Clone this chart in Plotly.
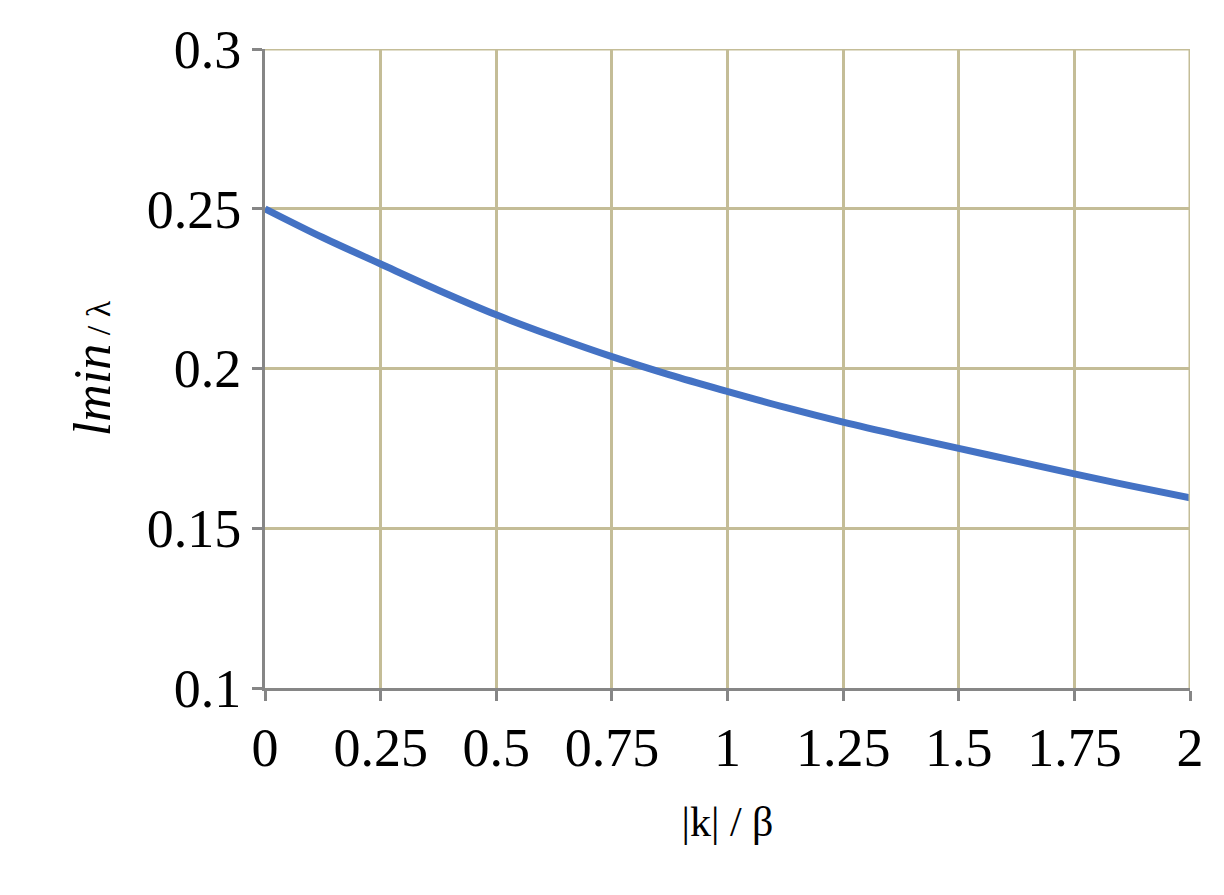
import plotly.graph_objects as go

x_vals = [0, 0.125, 0.25, 0.375, 0.5, 0.625, 0.75, 0.875, 1, 1.125, 1.25, 1.375, 1.5, 1.625, 1.75, 1.875, 2]
y_vals = [0.25, 0.2410, 0.2327, 0.2245, 0.2168, 0.2100, 0.2037, 0.1980, 0.1928, 0.1878, 0.1832, 0.1790, 0.1750, 0.1710, 0.1670, 0.1632, 0.1595]
x_ticks = [0, 0.25, 0.5, 0.75, 1, 1.25, 1.5, 1.75, 2]
x_tick_text = ["0", "0.25", "0.5", "0.75", "1", "1.25", "1.5", "1.75", "2"]
y_ticks = [0.1, 0.15, 0.2, 0.25, 0.3]
y_tick_text = ["0.1", "0.15", "0.2", "0.25", "0.3"]

fig = go.Figure(go.Scatter(x=x_vals, y=y_vals, mode="lines", line=dict(color="#4472C4", width=7, shape="spline")))
grid = "#C4BD97"
fig.update_layout(
    width=1208, height=879, paper_bgcolor="white", plot_bgcolor="white",
    margin=dict(l=257, r=19, t=38, b=199), showlegend=False,
    font=dict(family="Liberation Serif", color="black", size=40),
    xaxis=dict(range=[0, 2], tickvals=x_ticks, ticktext=x_tick_text, showgrid=True, gridcolor=grid, gridwidth=3,
               zeroline=False, showline=True, linecolor="#868686", linewidth=3, ticks="outside", ticklen=10,
               tickcolor="#868686", tickwidth=3, mirror=False, tickfont=dict(size=54),
               title=dict(text="|k| / β", font=dict(size=42), standoff=30)),
    yaxis=dict(range=[0.1, 0.3], tickvals=y_ticks, ticktext=y_tick_text, showgrid=True, gridcolor=grid, gridwidth=3,
               zeroline=False, showline=True, linecolor="#868686", linewidth=3, ticks="outside", ticklen=10,
               tickcolor="#868686", tickwidth=3, tickfont=dict(size=54),
               title=dict(text="<i>lmin</i><span style='font-size:34px'> / λ</span>", font=dict(size=52), standoff=20)),
)
fig.add_shape(type="line", xref="x", yref="paper", x0=2, x1=2, y0=0, y1=1, line=dict(color=grid, width=3))
fig.add_shape(type="line", xref="paper", yref="y", x0=0, x1=1, y0=0.3, y1=0.3, line=dict(color=grid, width=3))
fig.write_html("out.html")
